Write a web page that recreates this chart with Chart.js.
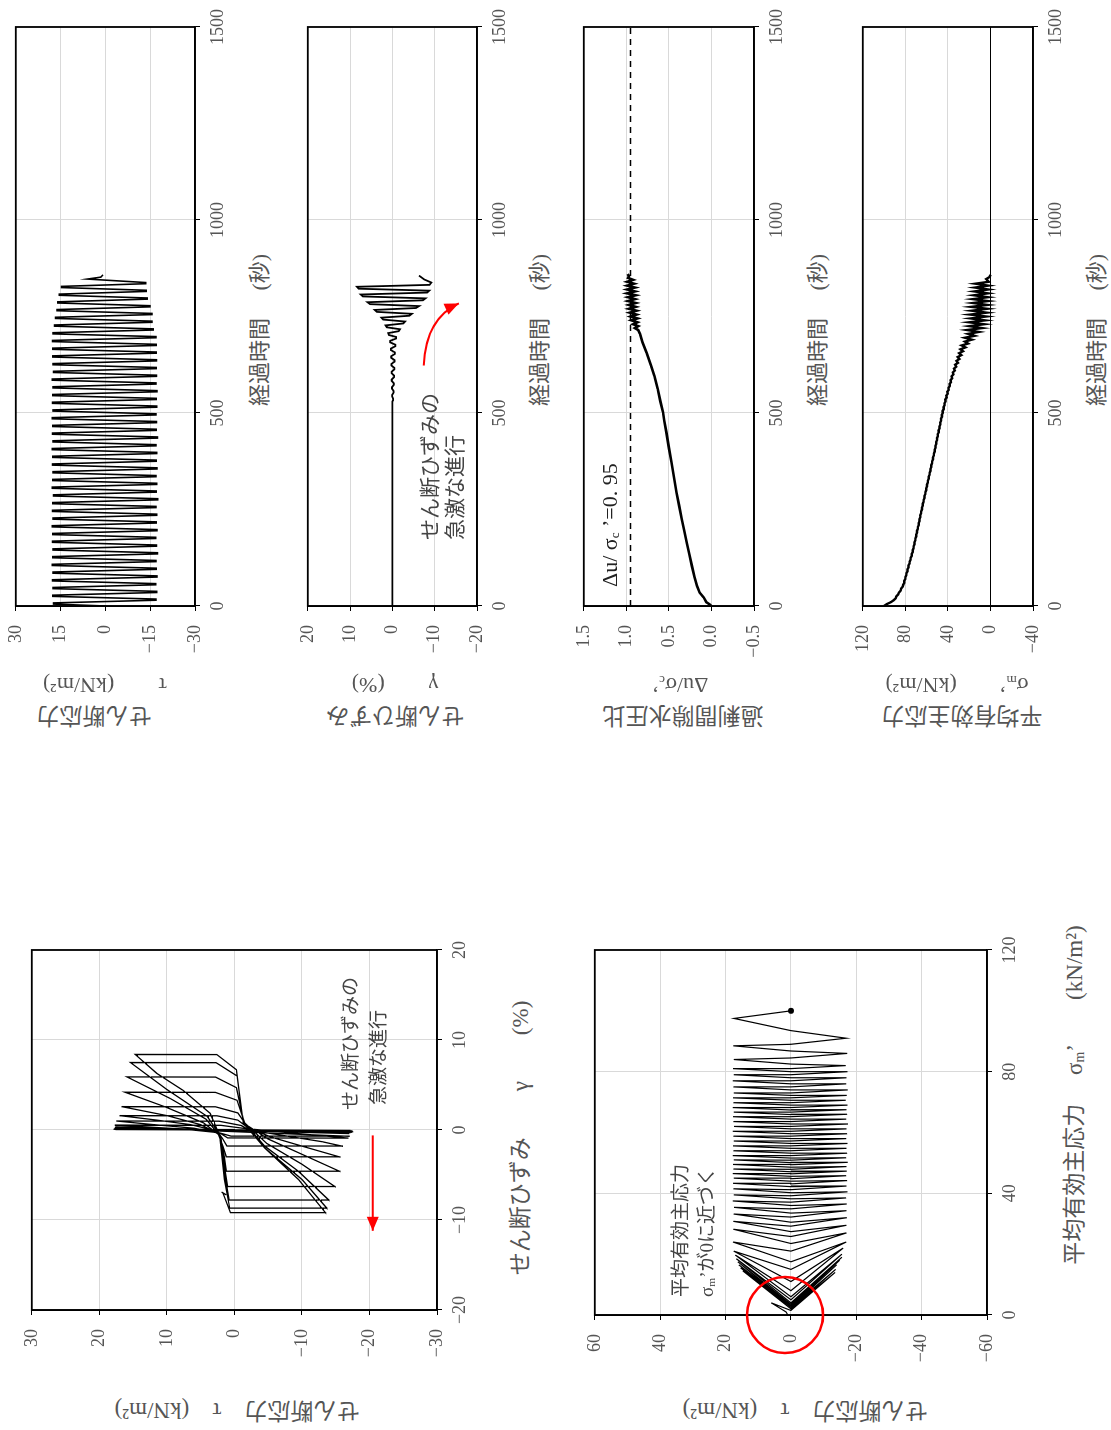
<!DOCTYPE html>
<html lang="ja">
<head>
<meta charset="utf-8">
<title>繰返しせん断試験結果</title>
<script src="https://cdn.jsdelivr.net/npm/chart.js@4.4.1/dist/chart.umd.min.js"></script>
<style>
  html, body { margin: 0; padding: 0; background: #fff; }
  body { width: 1111px; height: 1430px; overflow: hidden; position: relative; }
  /* the sheet is laid out landscape and turned a quarter to the left */
  #page { position: absolute; left: 0; top: 0; width: 1430px; height: 1111px;
          transform-origin: 0 0; transform: translateY(1430px) rotate(-90deg); }
  #page canvas { position: absolute; }
  .t { position: absolute; white-space: pre; line-height: 1; color: #555;
       font-family: "Liberation Serif", "Noto Sans CJK JP", serif; }
  .c { transform: translate(-50%, -50%); }
  .v { transform: translate(-50%, -50%) rotate(-90deg); }
  .l { transform: translate(0, -50%); }
  sub { font-size: 0.6em; vertical-align: -0.2em; }
</style>
</head>
<body>
<div id="page">
  <canvas id="tauTime"></canvas>
  <canvas id="strainTime"></canvas>
  <canvas id="ratioTime"></canvas>
  <canvas id="sigmaTime"></canvas>
  <canvas id="tauStrain"></canvas>
  <canvas id="tauSigma"></canvas>

  <!-- time histories: axis titles -->
  <div class="t v" style="left:715px;top:94px;font-size:23px">せん断応力</div>
  <div class="t v" style="left:745px;top:105px;font-size:22px">τ　　(kN/m²)</div>
  <div class="t v" style="left:715px;top:395px;font-size:23px">せん断ひずみ</div>
  <div class="t v" style="left:745px;top:395px;font-size:22px">γ　　(%)</div>
  <div class="t v" style="left:715px;top:683px;font-size:23px">過剰間隙水圧比</div>
  <div class="t v" style="left:745px;top:680px;font-size:22px">Δu/σ<sub>c</sub>’</div>
  <div class="t v" style="left:715px;top:962px;font-size:23px">平均有効主応力</div>
  <div class="t v" style="left:745px;top:957px;font-size:22px">σ<sub>m</sub>’　　(kN/m²)</div>

  <div class="t c" style="left:1100px;top:260px;font-size:22px">経過時間　 (秒)</div>
  <div class="t c" style="left:1100px;top:540px;font-size:22px">経過時間　 (秒)</div>
  <div class="t c" style="left:1100px;top:818px;font-size:22px">経過時間　 (秒)</div>
  <div class="t c" style="left:1100px;top:1097px;font-size:22px">経過時間　 (秒)</div>

  <!-- loops: axis titles -->
  <div class="t v" style="left:20px;top:237px;font-size:23px">せん断応力　τ　(kN/m²)</div>
  <div class="t v" style="left:20px;top:805px;font-size:23px">せん断応力　τ　(kN/m²)</div>
  <div class="t c" style="left:292px;top:520px;font-size:23px">せん断ひずみ　　γ　　(%)</div>
  <div class="t c" style="left:335px;top:1075px;font-size:23px">平均有効主応力　 σ<sub>m</sub>’　　(kN/m²)</div>

  <!-- notes -->
  <div class="t l" style="left:320px;top:350px;font-size:19px;color:#444">せん断ひずみの</div>
  <div class="t l" style="left:325px;top:378px;font-size:19px;color:#444">急激な進行</div>
  <div class="t l" style="left:133px;top:680px;font-size:19px;color:#444">平均有効主応力</div>
  <div class="t l" style="left:133px;top:707px;font-size:19px;color:#444">σ<sub>m</sub>’が0に近づく</div>
  <div class="t l" style="left:890px;top:430px;font-size:21px;color:#444">せん断ひずみの</div>
  <div class="t l" style="left:890px;top:455px;font-size:21px;color:#444">急激な進行</div>
  <div class="t l" style="left:843px;top:610px;font-size:22px;color:#222">Δu/ σ<sub>c</sub> ’=0. 95</div>
</div>

<script>
// half-cycle peaks of the stress-controlled loading (s): arrival, departure, zero crossing
const halfTime = [5,15,25,35,45,55,65,75,85,95,105,115,125,135,145,155,165,175,185,195,
  205,215,225,235,245,255,265,275,285,295,305,315,325,335,345,355,365,375,385,395,
  405,415,425,435,445,455,465,475,485,495,505,515,525,535,545,555,565,575,585,595,
  605,615,625,635,645,655,665,675,685,695,705,715,725,735,745,755,765,775,785,795,
  805,815,825,835]
const holdTime = [8,18,28,38,48,58,68,78,88,98,108,118,128,138,148,158,168,178,188,198,
  208,218,228,238,248,258,268,278,288,298,308,318,328,338,348,358,368,378,388,398,
  408,418,428,438,448,458,468,478,488,498,508,518,528,538,548,558,568,578,588,598,
  608,618,628,638,648,658,668,678,688,698,708,718,728,738,748,758,768,778,788,798,
  808,818,828,838]
const midTime = [10,20,30,40,50,60,70,80,90,100,110,120,130,140,150,160,170,180,190,200,
  210,220,230,240,250,260,270,280,290,300,310,320,330,340,350,360,370,380,390,400,
  410,420,430,440,450,460,470,480,490,500,510,520,530,540,550,560,570,580,590,600,
  610,620,630,640,650,660,670,680,690,700,710,720,730,740,750,760,770,780,790,800,
  810,820,830,840]

// shear stress at each peak (kN/m2)
const halfTau = [17.4,-16.9,17.6,-17.2,17.5,-16.8,17.7,-17.3,17.5,-17.0,
  17.8,-16.9,17.6,-17.4,17.5,-17.1,17.7,-16.8,17.6,-17.3,
  17.8,-17.0,17.5,-17.2,17.7,-16.9,17.6,-17.5,17.4,-17.0,
  17.8,-17.2,17.6,-16.9,17.5,-17.3,17.7,-17.0,17.6,-17.2,
  17.8,-16.9,17.5,-17.4,17.7,-17.0,17.6,-17.1,17.8,-16.9,
  17.5,-17.2,17.7,-17.0,17.6,-17.3,17.5,-16.9,17.8,-17.1,
  17.4,-17.0,17.5,-17.1,17.6,-17.0,17.6,-17.0,17.7,-16.9,
  17.5,-16.0,17.0,-15.6,16.7,-15.6,16.2,-14.9,15.9,-14.0,
  15.4,-13.7,14.7,-13.5]

// mean effective principal stress at each peak and at each zero crossing (kN/m2)
const halfSigma = [97.5,91.0,88.5,86.0,84.0,82.0,81.0,80.0,79.0,78.0,
  77.0,76.0,75.0,74.0,73.0,72.2,71.4,70.6,69.8,69.0,
  68.2,67.5,66.7,66.0,65.2,64.4,63.6,62.8,62.0,61.2,
  60.4,59.6,58.8,58.0,57.2,56.4,55.6,54.8,54.0,53.2,
  52.4,51.7,51.0,50.2,49.5,48.8,48.0,47.3,46.5,45.8,
  45.0,44.2,43.3,42.4,41.5,40.5,39.5,38.5,37.5,36.5,
  35.4,34.3,33.2,32.0,30.8,29.5,28.2,27.0,24.0,24.0,
  21.0,22.0,19.7,20.0,18.5,19.0,17.5,18.0,16.5,16.5,
  15.5,15.0,14.5,14.0]
const midSigma = [93.5,89.0,86.8,84.5,82.5,81.0,80.0,79.0,78.0,77.0,
  76.0,75.0,74.0,73.0,72.2,71.4,70.6,69.8,69.0,68.2,
  67.4,66.7,65.9,65.2,64.4,63.6,62.8,62.0,61.2,60.4,
  59.6,58.8,58.0,57.2,56.4,55.6,54.8,54.0,53.2,52.4,
  51.6,50.9,50.1,49.4,48.6,47.9,47.1,46.4,45.6,44.8,
  44.0,43.1,42.2,41.2,40.2,39.2,38.2,37.1,36.0,34.9,
  33.5,32.2,30.5,29.2,27.4,25.8,23.5,21.0,17.5,15.0,
  11.0,8.0,6.0,5.0,4.0,3.5,3.0,3.0,2.5,2.5,
  2.5,2.0,2.0,1.5]

const startSigma = 100
const endTime = [847, 852, 858]
const endTau = [6.0, 1.5, 0.8]
const endSigma = [4.0, 1.0, -0.2]

// shear strain history (%)
const strainTime = [0,530,533,537,543,547,553,557,563,567,573,577,583,587,593,597,603,607,613,617,
  623,627,633,637,643,647,653,657,663,667,673,677,683,687,693,697,
  702,707,712,717,722,727,732,737,742,747,752,757,762,767,772,777,782,787,792,797,
  802,807,812,817,822,827,832,838,846,856]
const strainValue = [0,0,-0.15,-0.15,0.05,0.05,-0.3,-0.3,0.1,0.1,-0.35,-0.35,0.15,0.15,-0.4,-0.4,0.2,0.2,-0.45,-0.45,
  0.25,0.25,-0.5,-0.5,0.3,0.3,-0.6,-0.6,0.35,0.35,-0.7,-0.7,0.55,0.55,-0.9,-0.9,
  0.8,1.0,-1.5,-1.8,1.3,1.6,-2.6,-3.0,2.2,2.6,-4.0,-4.6,3.7,4.2,-5.6,-6.3,5.3,5.9,-7.2,-7.8,
  7.0,7.5,-8.2,-8.7,8.0,8.4,-8.8,-9.2,-7.5,-6.3]

// excess pore water pressure ratio
const ratioTime = [0,4,10,22,35,52,75,104,135,164,195,225,260,294,333,372,410,450,480,502,
  530,562,595,623,655,683,705,
  715,720,725,730,735,740,745,750,755,760,765,770,775,780,785,790,795,800,805,810,
  815,820,825,830,835,840,845,850,855,860]
const ratioValue = [0,0.02,0.06,0.09,0.14,0.17,0.20,0.23,0.26,0.29,0.32,0.35,0.38,0.41,0.44,0.47,0.50,0.53,0.555,0.57,
  0.60,0.63,0.67,0.71,0.76,0.81,0.84,
  0.86,0.90,0.86,0.92,0.87,0.94,0.87,0.95,0.88,0.96,0.88,0.97,0.89,0.97,0.89,0.98,0.90,0.98,0.89,0.99,
  0.90,0.99,0.90,0.99,0.91,0.99,0.92,0.98,0.97,0.985]
const ratioLimit = 0.95

// stress-strain loops (strain %, stress kN/m2)
const loopGamma = [0,0.05,-0.05,0.08,-0.1,0.12,-0.15,0.15,-0.2,0.2,-0.25,0.25,-0.3,0.3,-0.4,0.35,-0.7,
  -0.68,-0.3,0.1,0.55,
  0.52,0.2,-0.3,-0.9,
  -0.88,-0.4,0.2,0.6,1.0,
  0.98,0.5,0.0,-0.7,-1.3,-1.8,
  -1.78,-0.9,-0.1,0.6,1.1,1.6,
  1.58,1.1,0.3,-0.8,-1.9,-3.0,
  -2.98,-1.8,-0.4,0.6,1.6,2.6,
  2.58,1.9,0.6,-1.0,-2.7,-4.6,
  -4.58,-3.0,-0.6,0.8,2.5,4.2,
  4.18,3.3,0.8,-1.5,-3.8,-6.3,
  -6.28,-4.0,-0.7,1.2,3.5,5.9,
  5.88,4.7,0.9,-1.8,-4.6,-7.8,
  -7.78,-5.0,-0.7,1.5,4.5,7.5,
  7.48,6.0,0.9,-2.0,-5.5,-8.7,
  -8.68,-5.5,-0.6,1.85,4.4,6.3,8.4,
  8.38,6.7,0.8,-2.0,-5.5,-9.2,
  -9.18,-7.0,-7.2,-6.9]
const loopTau = [0,17.6,-17.2,17.9,-17.5,17.7,-17.3,17.8,-17.6,17.6,-17.4,17.5,-17.2,17.7,-17.0,17.6,-17.0,
  0.5,2.3,7.5,17.7,
  2.0,-1.2,-8.0,-16.9,
  1.0,2.0,6.0,12.0,17.5,
  2.3,-1.0,-2.2,-8.0,-13.0,-16.0,
  1.1,1.8,2.6,6.5,11.5,17.0,
  2.6,-0.5,-1.9,-5.5,-10.5,-15.6,
  1.2,1.7,2.4,5.0,10.0,16.7,
  2.8,-0.5,-1.7,-5.0,-10.0,-15.6,
  1.2,1.5,2.2,4.6,10.0,16.2,
  2.8,-0.4,-1.5,-4.8,-10.0,-14.9,
  1.0,1.5,2.1,4.2,9.5,15.9,
  2.8,-0.3,-1.4,-4.5,-9.5,-14.0,
  0.8,1.4,2.0,4.0,10.0,15.4,
  2.7,-0.4,-1.3,-4.5,-10.0,-13.7,
  0.7,1.5,2.2,3.6,7.6,11.5,14.7,
  2.6,-0.3,-1.3,-4.5,-9.5,-13.5,
  0.6,1.7,1.2,1.9]

// axis ranges [min, max, step]
const timeRange = [0, 1500, 500]
const tauRange = [-30, 30, 15]
const strainRange = [-20, 20, 10]
const ratioRange = [-0.5, 1.5, 0.5]
const sigmaRange = [-40, 120, 40]
const loopStrainRange = [-20, 20, 10]
const loopTauRange = [-30, 30, 10]
const pathSigmaRange = [0, 120, 40]
const pathTauRange = [-60, 60, 20]

// red notes, in data units
const strainArrow = { from: [623, -7.4], via: [745, -7.9], to: [784, -15.7] }
const loopArrow = { from: [-0.6, -20.5], to: [-11.2, -20.5] }
const originCircle = { at: [0, 1.8], r: 12.5 }

const pts = (xs, ys) => xs.map((x, i) => ({ x, y: ys[i] }))

const tauSeries = [{ x: 0, y: 0 }]
const sigmaSeries = [{ x: 0, y: startSigma }]
const pathSeries = [{ x: startSigma, y: 0 }]
halfTime.forEach((t, i) => {
  tauSeries.push({ x: t, y: halfTau[i] }, { x: holdTime[i], y: halfTau[i] })
  sigmaSeries.push({ x: t, y: halfSigma[i] }, { x: midTime[i], y: midSigma[i] })
  pathSeries.push({ x: halfSigma[i], y: halfTau[i] }, { x: midSigma[i], y: 0 })
})
tauSeries.push(...pts(endTime, endTau))
sigmaSeries.push(...pts(endTime, endSigma))
pathSeries.push(...pts(endSigma, endTau))

const frame = {
  id: "frame",
  afterDatasetsDraw(chart) {
    const { ctx, chartArea: a } = chart
    ctx.save()
    ctx.strokeStyle = "#000"
    ctx.lineWidth = 1.8
    ctx.strokeRect(a.left, a.top, a.right - a.left, a.bottom - a.top)
    ctx.restore()
  }
}

function arrowHead(ctx, tip, from) {
  const ang = Math.atan2(tip[1] - from[1], tip[0] - from[0])
  const len = 14, half = 6
  const bx = tip[0] - len * Math.cos(ang), by = tip[1] - len * Math.sin(ang)
  ctx.beginPath()
  ctx.moveTo(tip[0], tip[1])
  ctx.lineTo(bx + half * Math.sin(ang), by - half * Math.cos(ang))
  ctx.lineTo(bx - half * Math.sin(ang), by + half * Math.cos(ang))
  ctx.closePath()
  ctx.fill()
}

const marks = {
  id: "marks",
  afterDatasetsDraw(chart, args, opts) {
    const { ctx, scales: { x, y } } = chart
    const px = (p) => [x.getPixelForValue(p[0]), y.getPixelForValue(p[1])]
    ctx.save()
    ctx.strokeStyle = "#f00"
    ctx.fillStyle = "#f00"
    ctx.lineWidth = 2
    ;(opts.arrows || []).forEach((a) => {
      const p0 = px(a.from), p1 = px(a.to)
      const c = a.via ? px(a.via) : p0
      ctx.beginPath()
      ctx.moveTo(p0[0], p0[1])
      if (a.via) ctx.quadraticCurveTo(c[0], c[1], p1[0], p1[1])
      else ctx.lineTo(p1[0], p1[1])
      ctx.stroke()
      arrowHead(ctx, p1, c)
    })
    ;(opts.circles || []).forEach((o) => {
      const p = px(o.at)
      const r = Math.abs(x.getPixelForValue(o.r) - x.getPixelForValue(0))
      ctx.lineWidth = 2.5
      ctx.beginPath()
      ctx.arc(p[0], p[1], r, 0, Math.PI * 2)
      ctx.stroke()
    })
    ctx.restore()
  }
}

const gridGray = "#d9d9d9"
const tickFont = { family: "'Liberation Serif', serif", size: 18 }
const intLabel = (v) => (v < 0 ? "\u2212" : "") + Math.abs(v)
const decLabel = (v) => (v < 0 ? "\u2212" : "") + Math.abs(v).toFixed(1)

function axis([min, max, step], dir, opt = {}) {
  return {
    type: "linear",
    position: dir === "x" ? "bottom" : "left",
    min, max,
    ticks: {
      stepSize: step,
      autoSkip: false,
      maxRotation: 0,
      color: "#555",
      font: tickFont,
      padding: dir === "x" ? 7 : 14,
      callback: opt.fmt || intLabel
    },
    grid: {
      color: opt.grid || gridGray,
      lineWidth: 1,
      tickLength: 5,
      tickColor: "#000"
    },
    border: { color: "#000", width: 1.5 },
    afterFit(scale) {
      if (dir === "x") scale.height = 40
      else scale.width = 80
    }
  }
}

function line(data, width, extra = {}) {
  return Object.assign({
    data,
    showLine: true,
    borderColor: "#000",
    borderWidth: width,
    pointRadius: 0,
    tension: 0,
    fill: false
  }, extra)
}

// the y axis keeps about 25px above the plot for its top label
function plot(id, geo, xAxis, yAxis, datasets, notes) {
  const canvas = document.getElementById(id)
  canvas.width = geo.w
  canvas.height = geo.h
  canvas.style.left = geo.left + "px"
  canvas.style.top = geo.top + "px"
  return new Chart(canvas, {
    type: "scatter",
    data: { datasets },
    options: {
      responsive: false,
      animation: false,
      devicePixelRatio: 1,
      events: [],
      layout: { autoPadding: false, padding: { top: 8, right: 22, left: 0, bottom: 0 } },
      plugins: {
        legend: { display: false },
        tooltip: { enabled: false },
        marks: notes || {}
      },
      scales: { x: xAxis, y: yAxis }
    },
    plugins: [frame, marks]
  })
}

// time histories (plot area 824..1406 across the sheet)
plot("tauTime", { left: 744, top: -9, w: 684, h: 244 },
  axis(timeRange, "x"), axis(tauRange, "y"),
  [line(tauSeries, 1.6)])

plot("strainTime", { left: 744, top: 283, w: 684, h: 234 },
  axis(timeRange, "x"), axis(strainRange, "y"),
  [line(pts(strainTime, strainValue), 1.8)],
  { arrows: [strainArrow] })

plot("ratioTime", { left: 744, top: 559, w: 684, h: 235 },
  axis(timeRange, "x"), axis(ratioRange, "y", { fmt: decLabel }),
  [line(pts(ratioTime, ratioValue), 2.6),
   line([{ x: timeRange[0], y: ratioLimit }, { x: timeRange[1], y: ratioLimit }], 1.5, { borderDash: [6, 5] })])

plot("sigmaTime", { left: 744, top: 838, w: 684, h: 235 },
  axis(timeRange, "x"),
  axis(sigmaRange, "y", { grid: (c) => (c.tick && c.tick.value === 0 ? "#000" : gridGray) }),
  [line(sigmaSeries, 2.4)])

// loops
plot("tauStrain", { left: 40, top: 7, w: 462, h: 470 },
  axis(loopStrainRange, "x"), axis(loopTauRange, "y"),
  [line(pts(loopGamma, loopTau), 1.3)],
  { arrows: [loopArrow] })

plot("tauSigma", { left: 35, top: 570, w: 467, h: 457 },
  axis(pathSigmaRange, "x"), axis(pathTauRange, "y"),
  [line(pathSeries, 1.2, {
    pointRadius: (c) => (c.dataIndex === 0 ? 3 : 0),
    pointBackgroundColor: "#000",
    pointBorderWidth: 0
  })],
  { circles: [originCircle] })
</script>
</body>
</html>
